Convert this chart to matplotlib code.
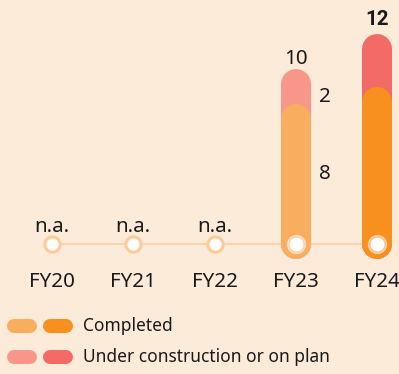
import numpy as np, matplotlib; matplotlib.use("Agg")
import matplotlib.pyplot as plt
plt.rcParams["font.family"] = ["Noto Sans", "DejaVu Sans"]

years = ["FY20", "FY21", "FY22", "FY23", "FY24"]
completed = [None, None, None, 8, 9]
under_construction = [None, None, None, 2, 3]
show_split = [False, False, False, True, False]

bg = "#FDEBDA"
light_done, dark_done = "#F9AE5F", "#F7901F"
light_plan, dark_plan = "#F6978A", "#F26B66"
ink = "#1A1A1A"

W, H, dpi = 399, 374, 100
fig = plt.figure(figsize=(W / dpi, H / dpi), dpi=dpi, facecolor=bg)
ax = fig.add_axes([0, 0, 1, 1], facecolor=bg)
px_x, px_y = 81.25, 17.5            # pixels per category / per unit
x0, y0 = 52, 244                    # first category, baseline (pixels from top-left)
ax.set_xlim(-x0 / px_x, (W - x0) / px_x)
ax.set_ylim(-(H - y0) / px_y, y0 / px_y)
ax.axis("off")

bar_px = 30
lw = bar_px * 72 / dpi
cap = bar_px / 2 / px_y
x = np.arange(len(years))
fs = 14.8

ax.plot([x[0], x[-1]], [0, 0], color="#FBCF9E", lw=1.2, zorder=1)

for i, yr in enumerate(years):
    ax.text(i, -2.47, yr, ha="center", va="baseline", fontsize=fs, color=ink)
    if completed[i] is None:
        ax.plot(i, 0, "o", ms=11, mfc="white", mec="#FCCB97", mew=2.2, zorder=4)
        ax.text(i, 0.7, "n.a.", ha="center", va="baseline", fontsize=fs, color=ink)
        continue
    total = completed[i] + under_construction[i]
    c_done = light_done if show_split[i] else dark_done
    c_plan = light_plan if show_split[i] else dark_plan
    ax.plot([i, i], [0, total - cap], color=c_plan, lw=lw, solid_capstyle="round", zorder=2)
    ax.plot([i, i], [0, completed[i] - cap], color=c_done, lw=lw, solid_capstyle="round", zorder=3)
    ax.plot(i, 0, "o", ms=13, mfc="white", mec="white", alpha=0.45, zorder=4)
    ax.plot(i, 0, "o", ms=9, mfc="white", mec="white", zorder=5)
    if show_split[i]:
        ax.text(i, total + 0.3, f"{total}", ha="center", va="baseline", fontsize=fs, color=ink)
        ax.text(i + 0.28, completed[i] + under_construction[i] * 0.2, f"{under_construction[i]}",
                ha="left", va="center", fontsize=fs, color=ink)
        ax.text(i + 0.28, completed[i] / 2, f"{completed[i]}",
                ha="left", va="center", fontsize=fs, color=ink)
    else:
        ax.text(i, total + 0.5, f"{total}", ha="center", va="baseline", fontsize=fs,
                family=["Roboto", "DejaVu Sans"], fontweight="bold", color=ink)

# legend: pairs of pills
legend = [("Completed", light_done, dark_done), ("Under construction or on plan", light_plan, dark_plan)]
for k, (lab, c1, c2) in enumerate(legend):
    yy = 1 - (326 + 31 * k) / H
    for xa, xb, c in [(14, 30, c1), (50, 66, c2)]:
        fig.add_artist(plt.Line2D([xa / W, xb / W], [yy, yy], color=c, lw=14 * 72 / dpi,
                                  solid_capstyle="round"))
    fig.text(83 / W, yy, lab, ha="left", va="center", fontsize=12.5, color=ink)

fig.savefig("out.png", dpi=dpi, facecolor=bg)
